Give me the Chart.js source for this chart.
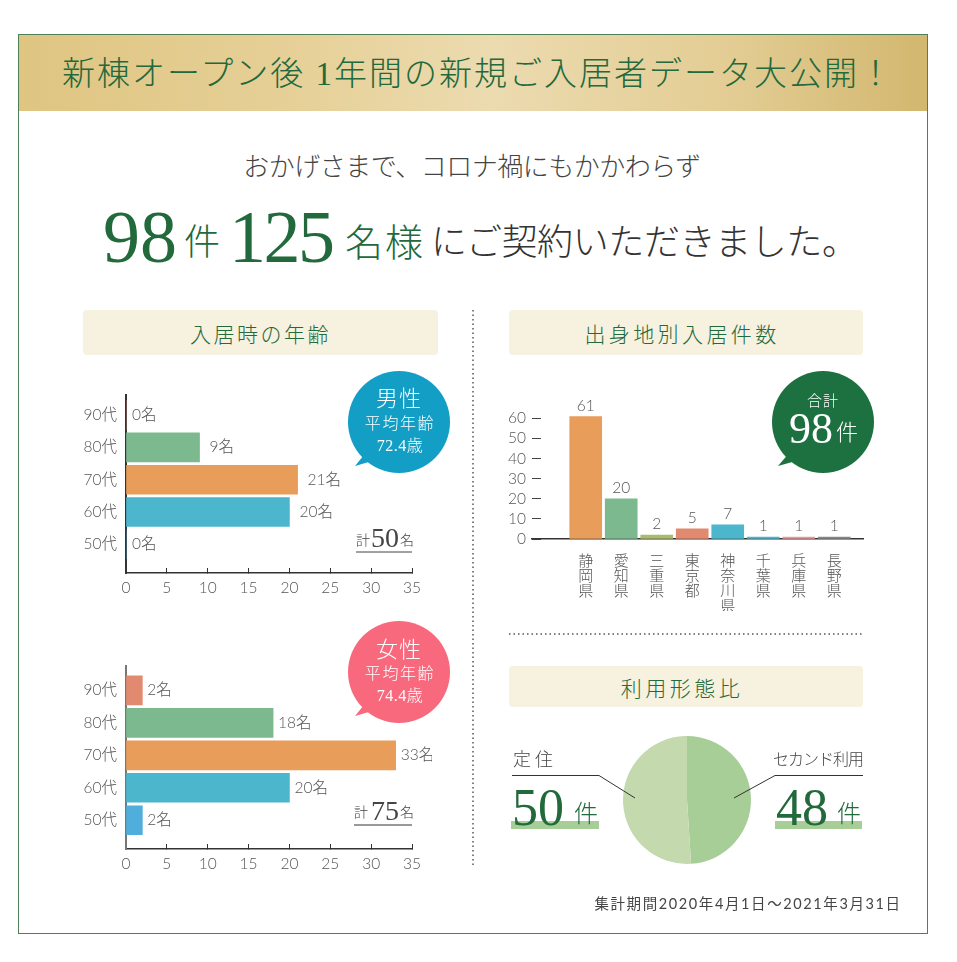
<!DOCTYPE html>
<html lang="ja">
<head>
<meta charset="utf-8">
<title>新棟オープン後 1年間の新規ご入居者データ大公開！</title>
<script src="https://cdn.jsdelivr.net/npm/chart.js@4"></script>
<style>
  html, body { margin: 0; padding: 0; background: #fff; }
  #page { position: relative; width: 957px; height: 962px; overflow: hidden; font-family: 'Liberation Serif', 'Noto Sans CJK JP', serif; font-weight: 300; color: #444; }
  #page canvas, #art { position: absolute; }
  #frame { position: absolute; left: 18px; top: 34px; width: 908px; height: 898px; border: 1.5px solid #4f7f56; }
  #band { position: absolute; left: 19px; top: 35px; width: 908px; height: 76px; background: linear-gradient(90deg, #dfc582 0%, #e6d097 30%, #ecdbb0 52%, #e3cd94 78%, #d2b76f 100%); }
  .t { position: absolute; white-space: nowrap; line-height: 1; transform: translate(-50%, -50%); }
  .l { transform: translate(0, -50%); }
  .g { color: #22693c; }
  .w { color: #fff; }
  .head { position: absolute; background: #f7f1df; border-radius: 4px; color: #22693c; font-size: 21px; letter-spacing: 2.5px; display: flex; align-items: center; justify-content: center; }
  .sans { font-family: Lato, 'Noto Sans CJK JP', sans-serif; }
  .num { font-family: 'Liberation Serif', serif; font-weight: 400; }
</style>
</head>
<body>
<div id="page">
  <div id="frame"></div>
  <div id="band"></div>
  <div class="t g" style="left:478px;top:74px;font-size:33px;letter-spacing:2px">新棟オープン後 1年間の新規ご入居者データ大公開！</div>

  <div class="t" style="left:472px;top:168px;font-size:26px;letter-spacing:-0.5px">おかげさまで、コロナ禍にもかかわらず</div>
  <div class="t l g num" style="left:103px;top:237px;font-size:74px">98</div>
  <div class="t l g" style="left:184px;top:243px;font-size:36px">件</div>
  <div class="t l g num" style="left:229px;top:237px;font-size:74px;letter-spacing:-2.5px">125</div>
  <div class="t l g" style="left:345px;top:243px;font-size:38px;letter-spacing:2px">名様</div>
  <div class="t l" style="left:431px;top:243px;font-size:36px;letter-spacing:-0.4px;color:#333">にご契約いただきました。</div>

  <div class="head" style="left:83px;top:310px;width:355px;height:45px">入居時の年齢</div>
  <div class="head" style="left:509px;top:310px;width:346px;height:45px;padding-right:8px;letter-spacing:3.4px">出身地別入居件数</div>
  <div class="head" style="left:509px;top:666px;width:346px;height:41px;padding-right:8px;letter-spacing:3.5px">利用形態比</div>

  <svg id="art" width="957" height="962" style="left:0;top:0">
    <line x1="473" y1="310" x2="473" y2="866" stroke="#555" stroke-width="1.5" stroke-dasharray="1.5 3"/>
    <line x1="509" y1="634" x2="863" y2="634" stroke="#555" stroke-width="1.5" stroke-dasharray="1.5 3"/>
    <circle cx="399" cy="422" r="51" fill="#139ec5"/>
    <path d="M372 445 L355 466 L386 457 Z" fill="#139ec5"/>
    <circle cx="399" cy="672" r="51" fill="#f8697d"/>
    <path d="M372 695 L355 716 L386 707 Z" fill="#f8697d"/>
    <circle cx="823" cy="422" r="51" fill="#1d7040"/>
    <path d="M796 445 L778 466 L810 457 Z" fill="#1d7040"/>
    <line x1="356" y1="552" x2="412" y2="552" stroke="#444" stroke-width="1"/>
    <line x1="354" y1="825" x2="412" y2="825" stroke="#777" stroke-width="1.5"/>
    <rect x="511" y="821" width="88" height="8" fill="#a8ce97"/>
    <rect x="775" y="821" width="87" height="8" fill="#a8ce97"/>
  </svg>

  <canvas id="men" width="366" height="223" style="left:66px;top:377px"></canvas>
  <canvas id="women" width="366" height="228" style="left:66px;top:648px"></canvas>
  <canvas id="origin" width="370" height="219" style="left:505px;top:392px"></canvas>
  <canvas id="usage" width="134" height="134" style="left:620px;top:733px"></canvas>

  <svg id="art2" width="957" height="962" style="position:absolute;left:0;top:0">
    <polyline points="512,775.5 599,775.5 635,798" fill="none" stroke="#333" stroke-width="1"/>
    <polyline points="863,775.5 775,775.5 734,798" fill="none" stroke="#333" stroke-width="1"/>
  </svg>

  <div class="t w" style="left:399px;top:399px;font-size:22px;letter-spacing:1px">男性</div>
  <div class="t w" style="left:400px;top:424px;font-size:16px;letter-spacing:1.6px">平均年齢</div>
  <div class="t w" style="left:400px;top:446px;font-size:16px;letter-spacing:.5px">72.4歳</div>
  <div class="t w" style="left:399px;top:650px;font-size:22px;letter-spacing:1px">女性</div>
  <div class="t w" style="left:400px;top:674px;font-size:16px;letter-spacing:1.6px">平均年齢</div>
  <div class="t w" style="left:400px;top:696px;font-size:16px;letter-spacing:.5px">74.4歳</div>
  <div class="t w" style="left:823px;top:401px;font-size:15px;letter-spacing:1px">合計</div>
  <div class="t l w num" style="left:789px;top:429px;font-size:44px">98</div>
  <div class="t l w" style="left:836px;top:433px;font-size:22px">件</div>

  <div class="t l" style="left:356px;top:541px;font-size:14px">計</div>
  <div class="t l num" style="left:371px;top:538px;font-size:28px">50</div>
  <div class="t l" style="left:400px;top:541px;font-size:14px">名</div>
  <div class="t l" style="left:354px;top:813px;font-size:14px">計</div>
  <div class="t l num" style="left:371px;top:811px;font-size:28px">75</div>
  <div class="t l" style="left:400px;top:813px;font-size:14px">名</div>

  <div class="t l" style="left:513px;top:760px;font-size:18px;letter-spacing:4px">定住</div>
  <div class="t l" style="left:773px;top:760px;font-size:16px;letter-spacing:-1px">セカンド利用</div>
  <div class="t l g num" style="left:512px;top:808px;font-size:52px">50</div>
  <div class="t l g" style="left:574px;top:814px;font-size:24px">件</div>
  <div class="t l g num" style="left:776px;top:808px;font-size:52px">48</div>
  <div class="t l g" style="left:837px;top:814px;font-size:24px">件</div>

  <div class="t sans" style="left:748px;top:904px;font-size:14.5px;letter-spacing:1.6px;font-weight:400">集計期間2020年4月1日～2021年3月31日</div>
</div>

<script>
const ageDecades = [90, 80, 70, 60, 50];
const menCounts = [0, 9, 21, 20, 0];
const womenCounts = [2, 18, 33, 20, 2];
const menColors = ['#e28a70', '#7db98e', '#e89d5a', '#4bb6cc', '#4faedb'];
const womenColors = ['#e28a70', '#7db98e', '#e89d5a', '#4bb6cc', '#4faedb'];
const countTicks = [0, 5, 10, 15, 20, 25, 30, 35];

const prefectures = ['静岡県', '愛知県', '三重県', '東京都', '神奈川県', '千葉県', '兵庫県', '長野県'];
const prefectureCounts = [61, 20, 2, 5, 7, 1, 1, 1];
const prefectureColors = ['#e89d5a', '#7db98e', '#a9bc6e', '#e28a70', '#4bb6cc', '#4bb6cc', '#e59aa0', '#888888'];

const usageLabels = ['セカンド利用', '定住'];
const usageCounts = [48, 50];
const usageColors = ['#a8ce97', '#c4d9ae'];

const tickFont = { family: "Lato, 'Noto Sans CJK JP', sans-serif", size: 15.5, weight: '300' };
const textColor = '#555';

// writes "21名" next to each bar
const ageLabels = {
  id: 'ageLabels',
  afterDatasetsDraw(chart, args, opts) {
    const { ctx, scales } = chart;
    ctx.save();
    ctx.font = `${tickFont.weight} ${tickFont.size}px ${tickFont.family}`;
    ctx.fillStyle = textColor;
    ctx.textBaseline = 'middle';
    chart.data.datasets[0].data.forEach((p) => {
      const gap = p.x > 0 ? opts.gap : 6;
      ctx.fillText(`${p.x}名`, scales.x.getPixelForValue(p.x) + gap, scales.y.getPixelForValue(p.y));
    });
    ctx.restore();
  }
};

const columnLabels = {
  id: 'columnLabels',
  afterDatasetsDraw(chart) {
    const { ctx, scales } = chart;
    ctx.save();
    ctx.font = `${tickFont.weight} ${tickFont.size}px ${tickFont.family}`;
    ctx.fillStyle = textColor;
    ctx.textAlign = 'center';
    ctx.textBaseline = 'bottom';
    chart.data.datasets[0].data.forEach((p) => {
      ctx.fillText(p.y, scales.x.getPixelForValue(p.x), scales.y.getPixelForValue(p.y) - 3);
    });
    ctx.restore();
  }
};

function makeAgeChart(id, counts, colors, yMin, yMax, gap, yAxisColor) {
  new Chart(document.getElementById(id), {
    type: 'bar',
    plugins: [ageLabels],
    data: {
      datasets: [{
        data: ageDecades.map((d, i) => ({ x: counts[i], y: d })),
        backgroundColor: colors,
        barThickness: 29
      }]
    },
    options: {
      indexAxis: 'y',
      responsive: false,
      maintainAspectRatio: false,
      animation: false,
      layout: { padding: { right: 20 } },
      plugins: { legend: { display: false }, tooltip: { enabled: false }, ageLabels: { gap: gap } },
      scales: {
        x: {
          type: 'linear',
          min: 0,
          max: 35,
          afterBuildTicks: (s) => { s.ticks = countTicks.map((v) => ({ value: v })); },
          afterFit: (s) => { s.height = 27; },
          border: { color: '#333', width: 1.5 },
          grid: { drawOnChartArea: false, tickLength: -5, color: '#333' },
          ticks: { font: tickFont, color: textColor, padding: 11, maxRotation: 0 }
        },
        y: {
          type: 'linear',
          offset: false,
          min: yMin,
          max: yMax,
          afterBuildTicks: (s) => { s.ticks = ageDecades.map((v) => ({ value: v })); },
          afterFit: (s) => { s.width = 60; },
          border: { color: yAxisColor, width: 2 },
          grid: { drawOnChartArea: false, drawTicks: false, offset: false },
          ticks: { font: tickFont, color: textColor, padding: 9, autoSkip: false, callback: (v) => `${v}代` }
        }
      }
    }
  });
}

makeAgeChart('men', menCounts, menColors, 41.1, 96.15, 10, '#333');
makeAgeChart('women', womenCounts, womenColors, 41.13, 97.43, 5, '#777');

new Chart(document.getElementById('origin'), {
  type: 'bar',
  plugins: [columnLabels],
  data: {
    datasets: [{
      data: prefectures.map((p, i) => ({ x: i, y: prefectureCounts[i] })),
      backgroundColor: prefectureColors,
      barThickness: 32
    }]
  },
  options: {
    responsive: false,
    maintainAspectRatio: false,
    animation: false,
    layout: { padding: { right: 12 } },
    plugins: { legend: { display: false }, tooltip: { enabled: false } },
    scales: {
      x: {
        type: 'linear',
        offset: false,
        min: -1.513,
        max: 7.81,
        afterBuildTicks: (s) => { s.ticks = prefectures.map((p, i) => ({ value: i })); },
        afterFit: (s) => { s.height = 72; },
        border: { color: '#333', width: 1.5 },
        grid: { display: false, offset: false },
        ticks: {
          font: { ...tickFont, size: 15, lineHeight: 1 },
          color: textColor,
          padding: 7,
          maxRotation: 0,
          autoSkip: false,
          callback: (v) => prefectures[v].split('')
        }
      },
      y: {
        type: 'linear',
        min: 0,
        max: 61,
        afterFit: (s) => { s.width = 27; },
        border: { display: false },
        grid: { drawOnChartArea: false, tickLength: -9, color: '#444' },
        ticks: { stepSize: 10, includeBounds: false, autoSkip: false, font: tickFont, color: textColor, padding: 15 }
      }
    }
  }
});

new Chart(document.getElementById('usage'), {
  type: 'pie',
  data: {
    labels: usageLabels,
    datasets: [{ data: usageCounts, backgroundColor: usageColors, borderWidth: 0, radius: 64 }]
  },
  options: {
    responsive: false,
    maintainAspectRatio: false,
    animation: false,
    plugins: { legend: { display: false }, tooltip: { enabled: false } }
  }
});
</script>
</body>
</html>
